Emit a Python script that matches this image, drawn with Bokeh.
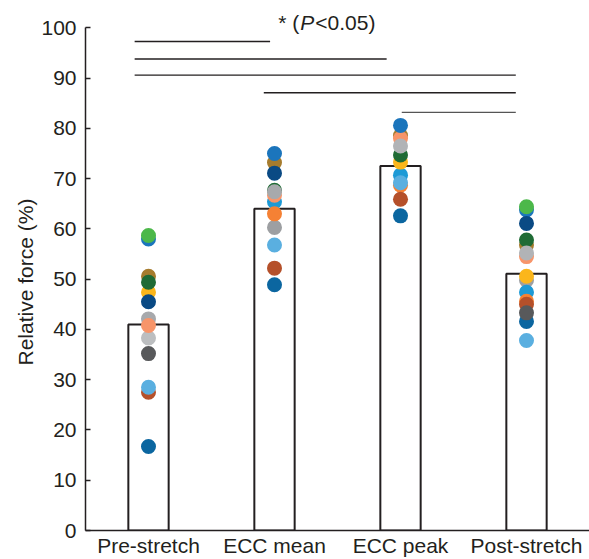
from bokeh.plotting import figure
from bokeh.models import Range1d, FixedTicker, Label, ColumnDataSource, Title
from bokeh.embed import file_html
from bokeh.resources import INLINE

# ---- data ----
categories = ["Pre-stretch", "ECC mean", "ECC peak", "Post-stretch"]
bar_means = [41.0, 64.0, 72.5, 51.1]

pre_values = [58.0, 58.7, 50.6, 47.4, 49.4, 45.5, 42.1, 38.3, 40.8, 35.2, 27.5, 28.5, 16.7]
pre_colors = ["#1b75bc", "#4cb84a", "#a67c2e", "#fbb61b", "#1f6b35", "#0a4a84", "#a7a9ac",
              "#bcbec0", "#f7956a", "#58595b", "#b5502a", "#5aafe0", "#0b66a0"]

eccm_values = [73.2, 75.0, 71.1, 67.7, 65.4, 66.7, 67.4, 60.3, 63.0, 56.8, 52.2, 48.9]
eccm_colors = ["#a67c2e", "#1b75bc", "#0a4a84", "#1f6b35", "#1d9ad6", "#f7956a", "#a7a9ac",
               "#9d9fa2", "#f58134", "#5aafe0", "#b5502a", "#0b66a0"]

eccp_values = [70.7, 73.3, 74.7, 78.6, 78.0, 76.5, 80.6, 68.7, 69.2, 65.9, 62.6]
eccp_colors = ["#1d9ad6", "#fbb61b", "#1f6b35", "#a67c2e", "#f7956a", "#b1b3b6", "#1b75bc",
               "#f58134", "#5aafe0", "#b5502a", "#0b66a0"]

post_values = [63.8, 64.4, 61.1, 56.8, 57.8, 54.5, 55.2, 49.8, 50.6, 47.4, 45.6, 45.0, 41.6, 43.3, 37.8]
post_colors = ["#1b75bc", "#4cb84a", "#0a4a84", "#a67c2e", "#1f6b35", "#f7956a", "#b1b3b6",
               "#9d9fa2", "#fbb61b", "#1d9ad6", "#f58134", "#b5502a", "#0b66a0", "#58595b", "#5aafe0"]

# significance brackets (x in category units, y in %)
sig_x0 = [-0.11, -0.11, -0.11, 0.915, 2.01]
sig_x1 = [0.965, 1.89, 2.915, 2.915, 2.915]
sig_y = [97.3, 93.8, 90.6, 87.1, 83.2]
sig_colors = ["#231f20", "#231f20", "#231f20", "#231f20", "#555555"]

y_ticks = [0, 10, 20, 30, 40, 50, 60, 70, 80, 90, 100]

INK = "#231f20"
FONT = "Liberation Sans"

p = figure(width=589, height=559, output_backend="svg", toolbar_location=None,
           x_range=Range1d(-0.5, 3.5), y_range=Range1d(0, 105.45),
           min_border_left=85, min_border_right=0, min_border_top=0, min_border_bottom=27)
p.outline_line_color = None
p.xgrid.grid_line_color = None
p.ygrid.grid_line_color = None
p.background_fill_color = "white"

# bars
xs = list(range(len(categories)))
p.vbar(x=xs, top=bar_means, width=0.32, bottom=0, fill_color="white",
       line_color=INK, line_width=2)

# points
groups = [pre_values, eccm_values, eccp_values, post_values]
colors = [pre_colors, eccm_colors, eccp_colors, post_colors]
for i, (vals, cols) in enumerate(zip(groups, colors)):
    src = ColumnDataSource(dict(x=[i] * len(vals), y=vals, c=cols))
    p.scatter(x="x", y="y", source=src, size=15, fill_color="c", line_color=None)

# significance lines
p.segment(x0=sig_x0, y0=sig_y, x1=sig_x1, y1=sig_y, line_color=sig_colors, line_width=1.4)

# significance label: "* (P<0.05)" with italic P
lab_x = 1.03
lab_y = 101.0
parts = [("* (", "normal", 0), ("P", "italic", 22), ("<0.05)", "normal", 37)]
for txt, style, off in parts:
    p.add_layout(Label(x=lab_x, y=lab_y, x_offset=off, text=txt, text_font=FONT,
                       text_font_size="21px", text_font_style=style, text_color=INK,
                       text_baseline="middle", text_align="left"))

# y axis label
p.add_layout(Title(text="Relative force (%)", align="left", offset=165,
                   text_font=FONT, text_font_size="21px", text_font_style="normal",
                   text_color=INK, standoff=3), "left")

# axes
p.xaxis.ticker = FixedTicker(ticks=xs)
p.xaxis.major_label_overrides = {i: c for i, c in enumerate(categories)}
p.xaxis.major_tick_line_color = None
p.xaxis.major_tick_out = 0
p.xaxis.major_tick_in = 0
p.xaxis.minor_tick_line_color = None
p.xaxis.axis_line_color = INK
p.xaxis.axis_line_width = 1.5
p.xaxis.major_label_text_font = FONT
p.xaxis.major_label_text_font_size = "21px"
p.xaxis.major_label_text_color = INK
p.xaxis.major_label_standoff = 3

p.yaxis.ticker = FixedTicker(ticks=y_ticks)
p.yaxis.bounds = (0, 100)
p.yaxis.major_tick_in = 5
p.yaxis.major_tick_out = 0
p.yaxis.minor_tick_line_color = None
p.yaxis.axis_line_color = INK
p.yaxis.axis_line_width = 1.5
p.yaxis.major_tick_line_color = INK
p.yaxis.major_tick_line_width = 1.5
p.yaxis.major_label_text_font = FONT
p.yaxis.major_label_text_font_size = "21px"
p.yaxis.major_label_text_color = INK
p.yaxis.major_label_standoff = 9

open("out.html", "w").write(file_html(p, INLINE))
